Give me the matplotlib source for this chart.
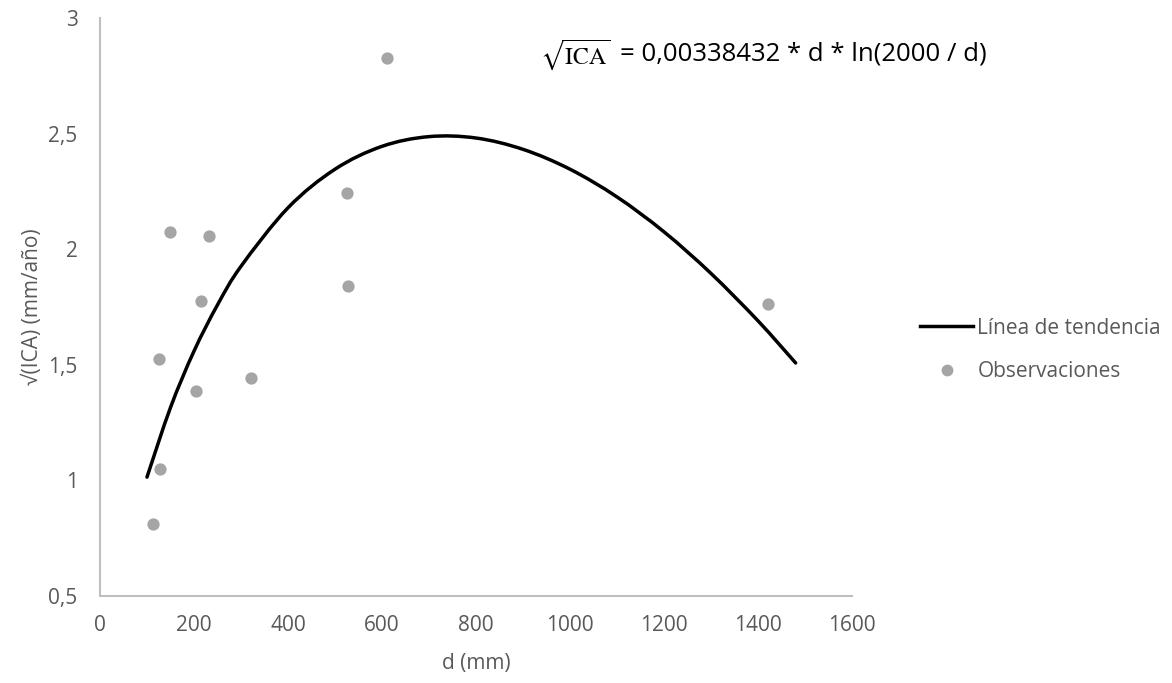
import matplotlib.pyplot as plt
from matplotlib.path import Path
from matplotlib.patches import PathPatch
from matplotlib.lines import Line2D

# Observaciones
obs_d = [113, 128, 125, 149, 204, 215, 232, 321, 526, 528, 611, 1422]
obs_y = [0.813, 1.048, 1.526, 2.074, 1.387, 1.774, 2.057, 1.443, 2.243, 1.843, 2.826, 1.765]

# Línea de tendencia
trend_d = [100, 150, 200, 250, 300, 400, 500, 600, 700, 800, 900, 1000,
           1100, 1200, 1300, 1400, 1480]
trend_y = [1.014, 1.315, 1.559, 1.759, 1.926, 2.179, 2.346, 2.445, 2.487,
           2.481, 2.432, 2.346, 2.226, 2.075, 1.895, 1.690, 1.508]

xticks = [0, 200, 400, 600, 800, 1000, 1200, 1400, 1600]
yticks = [0.5, 1, 1.5, 2, 2.5, 3]

plt.rcParams['font.family'] = ['Open Sans', 'DejaVu Sans']
txt = '#595959'
axis_col = '#BFBFBF'

fig = plt.figure(figsize=(11.72, 6.83), dpi=100)
ax = fig.add_axes([0.0853, 0.1274, 0.6417, 0.8462])

# smoothed line like Excel: cubic bezier segments through the points
pts = list(zip(trend_d, trend_y))
verts = [pts[0]]
codes = [Path.MOVETO]
n = len(pts)
for i in range(n - 1):
    p0 = pts[i - 1] if i > 0 else pts[i]
    p1, p2 = pts[i], pts[i + 1]
    p3 = pts[i + 2] if i + 2 < n else pts[i + 1]
    c1 = (p1[0] + (p2[0] - p0[0]) / 6, p1[1] + (p2[1] - p0[1]) / 6)
    c2 = (p2[0] - (p3[0] - p1[0]) / 6, p2[1] - (p3[1] - p1[1]) / 6)
    verts += [c1, c2, p2]
    codes += [Path.CURVE4] * 3
ax.add_patch(PathPatch(Path(verts, codes), facecolor='none', edgecolor='black',
                       lw=2.5, capstyle='round'))

ax.scatter(obs_d, obs_y, s=78, color='#A5A5A5', zorder=3, linewidths=0)

ax.set_xlim(0, 1600)
ax.set_ylim(0.5, 3)
ax.set_xticks(xticks)
ax.set_xticklabels([str(t) for t in xticks])
ax.set_yticks(yticks)
ax.set_yticklabels([str(t).replace('.', ',') for t in yticks])
ax.tick_params(axis='x', length=0, labelsize=15, labelcolor=txt, pad=14)
ax.tick_params(axis='y', length=0, labelsize=15, labelcolor=txt, pad=16)

for s in ['top', 'right']:
    ax.spines[s].set_visible(False)
for s in ['left', 'bottom']:
    ax.spines[s].set_color(axis_col)
    ax.spines[s].set_linewidth(1.5)

ax.set_xlabel('d (mm)', fontsize=15, color=txt, labelpad=12)
ax.set_ylabel('√(ICA) (mm/año)', fontsize=15, color=txt, labelpad=4)

ax.text(0.585, 0.937, r'$\sqrt{\mathrm{ICA}}$', transform=ax.transAxes,
        fontsize=17, math_fontfamily='stix', va='center', ha='left')
ax.text(0.691, 0.937, '= 0,00338432 * d * ln(2000 / d)', transform=ax.transAxes,
        fontsize=18.5, va='center', ha='left', color='black')

handles = [Line2D([], [], color='black', lw=2.5),
           Line2D([], [], ls='none', marker='o', markersize=8.5,
                  markerfacecolor='#A5A5A5', markeredgewidth=0)]
leg = fig.legend(handles, ['Línea de tendencia', 'Observaciones'],
                 loc='center left', bbox_to_anchor=(0.769, 0.4875), frameon=False,
                 fontsize=15, handlelength=2.55, handletextpad=0.2, labelspacing=1.1)
for t in leg.get_texts():
    t.set_color(txt)

fig.savefig('out.png', dpi=100)
